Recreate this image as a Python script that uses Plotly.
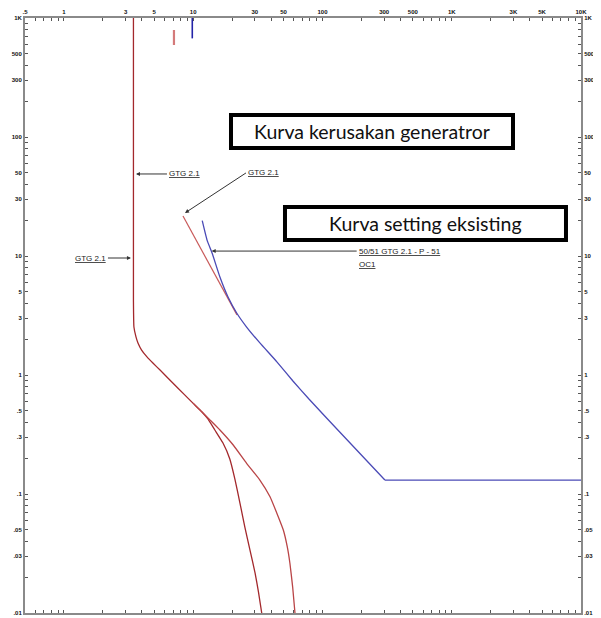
import math
import plotly.graph_objects as go

# ---------------- data ----------------
# Generator decrement / GTG 2.1 curve - shared upper part
gen_x = [3.45, 3.45, 3.48, 3.61, 3.74, 3.99, 4.39, 4.88, 5.54, 7.50, 9.96, 11.7]
gen_y = [1000, 4.27, 2.53, 2.09, 1.86, 1.62, 1.42, 1.26, 1.10, 0.79, 0.58, 0.489]
# branch A (steeper)
gen_a_x = [13.0, 14.7, 17.0, 19.2, 21.0, 23.0, 25.1, 27.5, 30.1, 32.0, 33.9]
gen_a_y = [0.427, 0.345, 0.268, 0.197, 0.134, 0.084, 0.0528, 0.0338, 0.0217, 0.015, 0.01]
# branch B (wider)
gen_b_x = [13.6, 16.1, 20.4, 25.9, 32.8, 39.3, 45.5, 49.8, 53.4, 56.0, 58.8, 61.3]
gen_b_y = [0.415, 0.345, 0.258, 0.181, 0.131, 0.0949, 0.0644, 0.0498, 0.0361, 0.0262, 0.0166, 0.01]

# Generator damage curve (I^2 t)
dmg_x = [8.34, 21.8]
dmg_y = [21.7, 3.2]

# 50/51 GTG 2.1 - P - 51 OC1 relay curve (inverse part, then definite-time floor)
rel_x = [11.75, 12.8, 14.0, 16.1, 18.6, 21.7, 25.9, 32.8, 44.4, 59.1, 78.6, 136, 304]
rel_y = [19.8, 13.6, 10.6, 6.66, 4.52, 3.32, 2.53, 1.86, 1.29, 0.891, 0.628, 0.332, 0.131]
floor_x = [304, 10000]
floor_y = [0.131, 0.131]

# short marks near the top
mark_red_x = [7.1, 7.1]
mark_red_y = [593, 793]
mark_blue_x = [9.84, 9.84]
mark_blue_y = [674, 1000]

# tick labels
x_labels = {0.5: ".5", 1: "1", 3: "3", 5: "5", 10: "10", 30: "30", 50: "50",
            100: "100", 300: "300", 500: "500", 1000: "1K", 3000: "3K",
            5000: "5K", 10000: "10K"}
y_labels = {1000: "1K", 500: "500", 300: "300", 100: "100", 50: "50", 30: "30",
            10: "10", 5: "5", 3: "3", 1: "1", 0.5: ".5", 0.3: ".3", 0.1: ".1",
            0.05: ".05", 0.03: ".03", 0.01: ".01"}


def log_ticks(lo, hi, labels):
    vals, texts = [], []
    for e in range(-3, 5):
        for m in range(1, 10):
            v = round(m * 10 ** e, 6)
            if lo - 1e-9 <= v <= hi + 1e-9:
                vals.append(v)
                lab = ""
                for k, t in labels.items():
                    if abs(k - v) < 1e-9:
                        lab = t
                texts.append(lab)
    return vals, texts


xt_v, xt_t = log_ticks(0.5, 10000, x_labels)
yt_v, yt_t = log_ticks(0.01, 1000, y_labels)

RED = "#a3282c"
RED2 = "#b94446"
BLUE = "#4a4ab6"
fig = go.Figure()

fig.add_trace(go.Scatter(x=gen_x + gen_a_x, y=gen_y + gen_a_y, mode="lines",
                         line=dict(color=RED, width=1.3, shape="spline", smoothing=0.4),
                         showlegend=False, hoverinfo="skip"))
fig.add_trace(go.Scatter(x=gen_x[-2:] + gen_b_x, y=gen_y[-2:] + gen_b_y, mode="lines",
                         line=dict(color=RED2, width=1.3, shape="spline", smoothing=0.4),
                         showlegend=False, hoverinfo="skip"))
fig.add_trace(go.Scatter(x=dmg_x, y=dmg_y, mode="lines",
                         line=dict(color="#c85a5a", width=1.2),
                         showlegend=False, hoverinfo="skip"))
fig.add_trace(go.Scatter(x=rel_x, y=rel_y, mode="lines",
                         line=dict(color=BLUE, width=1.3, shape="spline", smoothing=0.4),
                         showlegend=False, hoverinfo="skip"))
fig.add_trace(go.Scatter(x=floor_x, y=floor_y, mode="lines",
                         line=dict(color=BLUE, width=1.3),
                         showlegend=False, hoverinfo="skip"))
fig.add_trace(go.Scatter(x=mark_red_x, y=mark_red_y, mode="lines",
                         line=dict(color="#d47a7a", width=2.2),
                         showlegend=False, hoverinfo="skip"))
fig.add_trace(go.Scatter(x=mark_blue_x, y=mark_blue_y, mode="lines",
                         line=dict(color="#2424a8", width=1.6),
                         showlegend=False, hoverinfo="skip"))
# helper trace so the right-hand axis is drawn
fig.add_trace(go.Scatter(x=[1], y=[1], yaxis="y2", mode="markers",
                         marker=dict(opacity=0), showlegend=False, hoverinfo="skip"))

tickfont = dict(family="Liberation Sans", size=6, color="#111", weight="bold")
axis_common = dict(type="log", showgrid=False, zeroline=False, showline=True,
                   linecolor="#8a8a8a", linewidth=2, ticks="inside", ticklen=3,
                   tickwidth=1, tickcolor="#555", tickmode="array", tickfont=tickfont,
                   automargin=False)

# the page body adds an 8px offset, so the figure is sized to compensate
fig.update_layout(
    width=593, height=610,
    margin=dict(l=17, r=20, t=10, b=5),
    paper_bgcolor="white", plot_bgcolor="white",
    xaxis=dict(range=[math.log10(0.5), 4], side="top", mirror="ticks",
               tickvals=xt_v, ticktext=xt_t, **axis_common),
    yaxis=dict(range=[-2, 3], tickvals=yt_v, ticktext=yt_t, **axis_common),
    yaxis2=dict(range=[-2, 3], overlaying="y", side="right",
                tickvals=yt_v, ticktext=yt_t, **axis_common),
)

afont = dict(family="Liberation Sans", size=8, color="#222")
arrow = dict(showarrow=True, arrowhead=2, arrowsize=0.8, arrowwidth=1,
             arrowcolor="#333", axref="pixel", ayref="pixel", font=afont)

fig.add_annotation(x=math.log10(3.61), y=math.log10(48.9), ax=31, ay=0,
                   xanchor="left", yanchor="middle", text="<u>GTG 2.1</u>", **arrow)
fig.add_annotation(x=math.log10(3.30), y=math.log10(9.62), ax=-23, ay=0,
                   xanchor="right", yanchor="middle", text="<u>GTG 2.1</u>", **arrow)
fig.add_annotation(x=math.log10(8.64), y=math.log10(23), ax=61, ay=-40,
                   xanchor="left", yanchor="middle", text="<u>GTG 2.1</u>", **arrow)
fig.add_annotation(x=math.log10(13.9), y=math.log10(11.0), ax=145, ay=0,
                   xanchor="left", yanchor="middle",
                   text="<u>50/51 GTG 2.1 - P - 51</u>", **arrow)
fig.add_annotation(x=math.log10(13.9), y=math.log10(11.0), xshift=145, yshift=-13,
                   xanchor="left", yanchor="middle", showarrow=False,
                   text="<u>OC1</u>", font=afont)

# boxed captions
box_font = dict(family="Lato", size=19.5, color="#111")
fig.add_shape(type="rect", xref="paper", yref="paper",
              x0=0.3705, x1=0.8777, y0=0.7815, y1=0.8370,
              line=dict(color="black", width=4), fillcolor="white")
fig.add_annotation(xref="paper", yref="paper", x=0.624, y=0.810, showarrow=False,
                   xanchor="center", yanchor="middle",
                   text="Kurva kerusakan generatror", font=box_font)
fig.add_shape(type="rect", xref="paper", yref="paper",
              x0=0.4676, x1=0.9730, y0=0.6269, y1=0.6824,
              line=dict(color="black", width=4), fillcolor="white")
fig.add_annotation(xref="paper", yref="paper", x=0.721, y=0.655, showarrow=False,
                   xanchor="center", yanchor="middle",
                   text="Kurva setting eksisting", font=box_font)

fig.write_html("out.html")
